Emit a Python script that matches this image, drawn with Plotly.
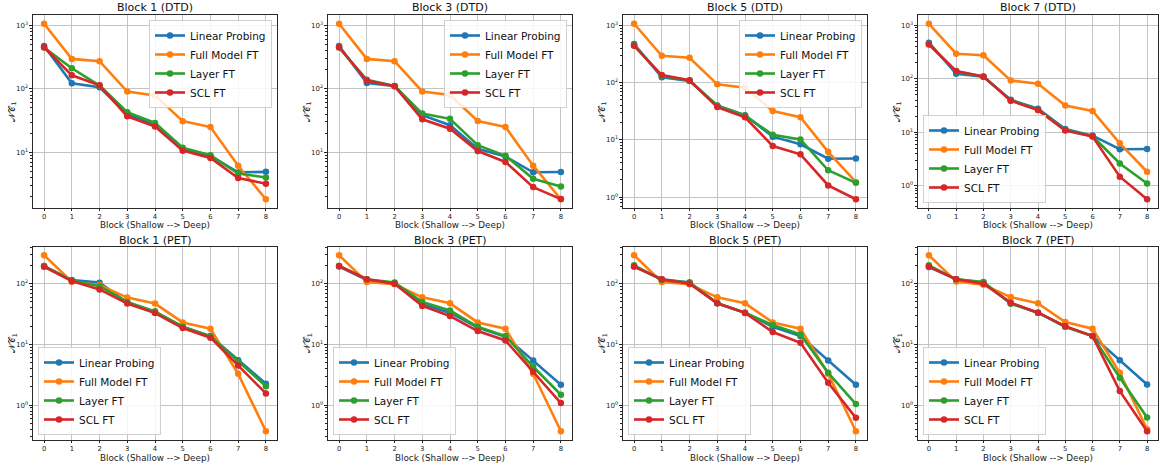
import numpy as np
import plotly.graph_objects as go

blocks = [0, 1, 2, 3, 4, 5, 6, 7, 8]
x_tick_labels = ["0", "1", "2", "3", "4", "5", "6", "7", "8"]
series_names = ["Linear Probing", "Full Model FT", "Layer FT", "SCL FT"]
colors = ["#1f77b4", "#ff7f0e", "#2ca02c", "#d62728"]
panel_titles = ["Block 1 (DTD)", "Block 3 (DTD)", "Block 5 (DTD)", "Block 7 (DTD)",
                "Block 1 (PET)", "Block 3 (PET)", "Block 5 (PET)", "Block 7 (PET)"]
x_title = "Block (Shallow --> Deep)"
y_title = "𝒩𝒞<sub>1</sub>"

# ---- DTD ----
dtd_b1_linear = [478, 123, 106, 40, 27, 11.3, 8.7, 4.8, 4.9]
dtd_b1_full = [1070, 298, 274, 91, 79, 31, 25, 6.1, 1.81]
dtd_b1_layer = [450, 212, 113, 43, 29, 11.8, 9.0, 4.6, 4.0]
dtd_b1_scl = [455, 164, 114, 37, 25.4, 10.6, 8.1, 3.9, 3.19]

dtd_b3_linear = [478, 124, 111, 38.5, 26.6, 11.3, 8.5, 4.8, 4.85]
dtd_b3_full = [1070, 298, 274, 91, 80, 31, 25, 6.1, 1.8]
dtd_b3_layer = [450, 139, 111, 40.7, 33.6, 12.9, 8.75, 3.8, 2.87]
dtd_b3_scl = [455, 135, 110, 33, 23.4, 10.4, 7.0, 2.8, 1.81]

dtd_b5_linear = [472, 124, 107, 40, 27, 11.4, 8.4, 4.7, 4.75]
dtd_b5_full = [1070, 295, 273, 93.6, 81.8, 32, 25, 6.2, 1.83]
dtd_b5_layer = [450, 132, 109, 39.6, 26.6, 12.3, 10.2, 2.95, 1.78]
dtd_b5_scl = [440, 136, 110, 37.5, 24.8, 7.83, 5.6, 1.6, 0.92]

dtd_b7_linear = [475, 124, 110, 40.5, 27.6, 11.5, 8.65, 4.8, 4.85]
dtd_b7_full = [1075, 296, 276, 93, 80.7, 31.8, 25, 6.2, 1.82]
dtd_b7_layer = [450, 137, 110, 39.5, 26.5, 11, 8.4, 2.6, 1.1]
dtd_b7_scl = [440, 140, 111, 39, 26, 10.8, 8.3, 1.47, 0.557]

# ---- PET ----
pet_b1_linear = [195, 115, 104, 48.6, 34, 19.6, 13.7, 5.5, 2.25]
pet_b1_full = [293, 108, 95, 59, 47, 23, 18.1, 3.28, 0.373]
pet_b1_layer = [195, 113, 91, 50, 35, 19.6, 13.5, 5.2, 2.05]
pet_b1_scl = [190, 110, 80.5, 47, 32.8, 18.6, 12.9, 4.5, 1.56]

pet_b3_linear = [191, 115, 102.6, 45.6, 33.3, 19, 13.4, 5.45, 2.16]
pet_b3_full = [293, 106, 97.5, 59.5, 47.4, 23, 18.1, 3.28, 0.372]
pet_b3_layer = [195, 118, 104, 49.9, 36.3, 19.5, 13.7, 4.28, 1.48]
pet_b3_scl = [195, 118, 100, 42.9, 29.3, 16.6, 11.6, 3.54, 1.08]

pet_b5_linear = [191, 118, 104, 47.4, 33.3, 19.5, 13.7, 5.45, 2.16]
pet_b5_full = [293, 106, 97.5, 59.5, 47.4, 23, 18.1, 3.3, 0.372]
pet_b5_layer = [200, 115, 104, 47.4, 33.3, 20.8, 14.6, 3.4, 1.04]
pet_b5_scl = [191, 118, 100, 47.4, 33, 16, 10.6, 2.33, 0.618]

pet_b7_linear = [188, 118, 104, 47.4, 33.3, 19.5, 13.7, 5.5, 2.18]
pet_b7_full = [293, 108, 96, 60, 47.4, 23.3, 18.1, 3.4, 0.4]
pet_b7_layer = [200, 118, 106, 46.8, 33.3, 19.5, 13.7, 2.82, 0.627]
pet_b7_scl = [191, 118, 100, 48.6, 33.3, 20, 13.7, 1.7, 0.372]

panels = [
    [dtd_b1_linear, dtd_b1_full, dtd_b1_layer, dtd_b1_scl],
    [dtd_b3_linear, dtd_b3_full, dtd_b3_layer, dtd_b3_scl],
    [dtd_b5_linear, dtd_b5_full, dtd_b5_layer, dtd_b5_scl],
    [dtd_b7_linear, dtd_b7_full, dtd_b7_layer, dtd_b7_scl],
    [pet_b1_linear, pet_b1_full, pet_b1_layer, pet_b1_scl],
    [pet_b3_linear, pet_b3_full, pet_b3_layer, pet_b3_scl],
    [pet_b5_linear, pet_b5_full, pet_b5_layer, pet_b5_scl],
    [pet_b7_linear, pet_b7_full, pet_b7_layer, pet_b7_scl],
]

W, H = 1159, 463
FONT = "DejaVu Sans"
col_px = [(33, 277), (328, 572), (623, 867), (918, 1158)]
row_px = [(15, 208), (246.5, 440)]
xtitle_px = [225.5, 457.5]
title_px = [8, 240]
legend_pos = ["ur", "ur", "ur", "ll", "ll", "ll", "ll", "ll"]

fig = go.Figure()
annotations = []
for p, series in enumerate(panels):
    r, c = divmod(p, 4)
    ax = "" if p == 0 else str(p + 1)
    lg = "legend" if p == 0 else "legend" + str(p + 1)
    for s, vals in enumerate(series):
        fig.add_trace(go.Scatter(
            x=blocks, y=vals, mode="lines+markers", name=series_names[s],
            line=dict(color=colors[s], width=2.6),
            marker=dict(color=colors[s], size=6.5),
            xaxis="x" + ax, yaxis="y" + ax, legend=lg, showlegend=True))
    x0, x1 = col_px[c]
    y0, y1 = row_px[r]
    xd = [x0 / W, x1 / W]
    yd = [1 - y1 / H, 1 - y0 / H]
    allv = np.log10(np.array(series, dtype=float))
    lo, hi = allv.min(), allv.max()
    span = hi - lo
    yr = [lo - 0.05 * span, hi + 0.05 * span]
    majors = [k for k in range(-3, 6) if yr[0] <= k <= yr[1]]
    minors = [m * 10.0 ** k for k in range(-3, 6) for m in range(2, 10)
              if yr[0] <= np.log10(m * 10.0 ** k) <= yr[1]]
    fig.layout["xaxis" + ax] = dict(
        domain=xd, anchor="y" + ax, range=[-0.4, 8.4],
        tickmode="array", tickvals=blocks, ticktext=x_tick_labels,
        ticks="outside", ticklen=2, tickwidth=0.8, tickcolor="#222",
        tickfont=dict(size=6.8, color="#222", family=FONT),
        showgrid=True, gridcolor="#c4c4c4", gridwidth=1,
        showline=True, mirror=True, linecolor="#2a2a2a", linewidth=1.2,
        zeroline=False)
    fig.layout["yaxis" + ax] = dict(
        domain=yd, anchor="x" + ax, type="log", range=yr,
        tickmode="array", tickvals=[10.0 ** k for k in majors],
        ticktext=["10<sup>%d</sup>" % k for k in majors],
        ticks="outside", ticklen=2.5, tickwidth=0.8, tickcolor="#222",
        tickfont=dict(size=7, color="#222", family=FONT),
        minor=dict(tickmode="array", tickvals=minors, ticks="outside", ticklen=1.5,
                   tickwidth=0.6, tickcolor="#222", showgrid=False),
        showgrid=True, gridcolor="#c4c4c4", gridwidth=1,
        showline=True, mirror=True, linecolor="#2a2a2a", linewidth=1.2,
        zeroline=False)
    xc = (xd[0] + xd[1]) / 2
    annotations.append(dict(
        text=panel_titles[p], x=xc, y=1 - title_px[r] / H, xref="paper", yref="paper",
        xanchor="center", yanchor="middle", showarrow=False,
        font=dict(size=11, color="#111", family=FONT)))
    annotations.append(dict(
        text=x_title, x=xc, y=1 - xtitle_px[r] / H, xref="paper", yref="paper",
        xanchor="center", yanchor="middle", showarrow=False,
        font=dict(size=8.8, color="#222", family=FONT)))
    annotations.append(dict(
        text=y_title, x=(x0 - 21) / W, y=(yd[0] + yd[1]) / 2, xref="paper", yref="paper",
        xanchor="center", yanchor="middle", showarrow=False, textangle=-90,
        font=dict(size=9, color="#222", family=FONT)))
    if legend_pos[p] == "ur":
        lx, ly, xa, ya = (x1 - 5) / W, 1 - (y0 + 5) / H, "right", "top"
    else:
        lx, ly, xa, ya = (x0 + 5) / W, 1 - (y1 - 5) / H, "left", "bottom"
    fig.layout[lg] = dict(
        x=lx, y=ly, xanchor=xa, yanchor=ya, xref="paper", yref="paper",
        bgcolor="rgba(255,255,255,0.85)", bordercolor="#d0d0d0", borderwidth=1,
        font=dict(size=10.5, color="#111", family=FONT), itemwidth=30,
        tracegroupgap=0)

fig.update_layout(
    width=W, height=H, margin=dict(l=0, r=0, t=0, b=0),
    paper_bgcolor="white", plot_bgcolor="white",
    annotations=annotations, font=dict(family=FONT))

fig.write_html("out.html", config={"displayModeBar": False},
               post_script="document.body.style.margin='0px';document.body.style.overflow='hidden';")
